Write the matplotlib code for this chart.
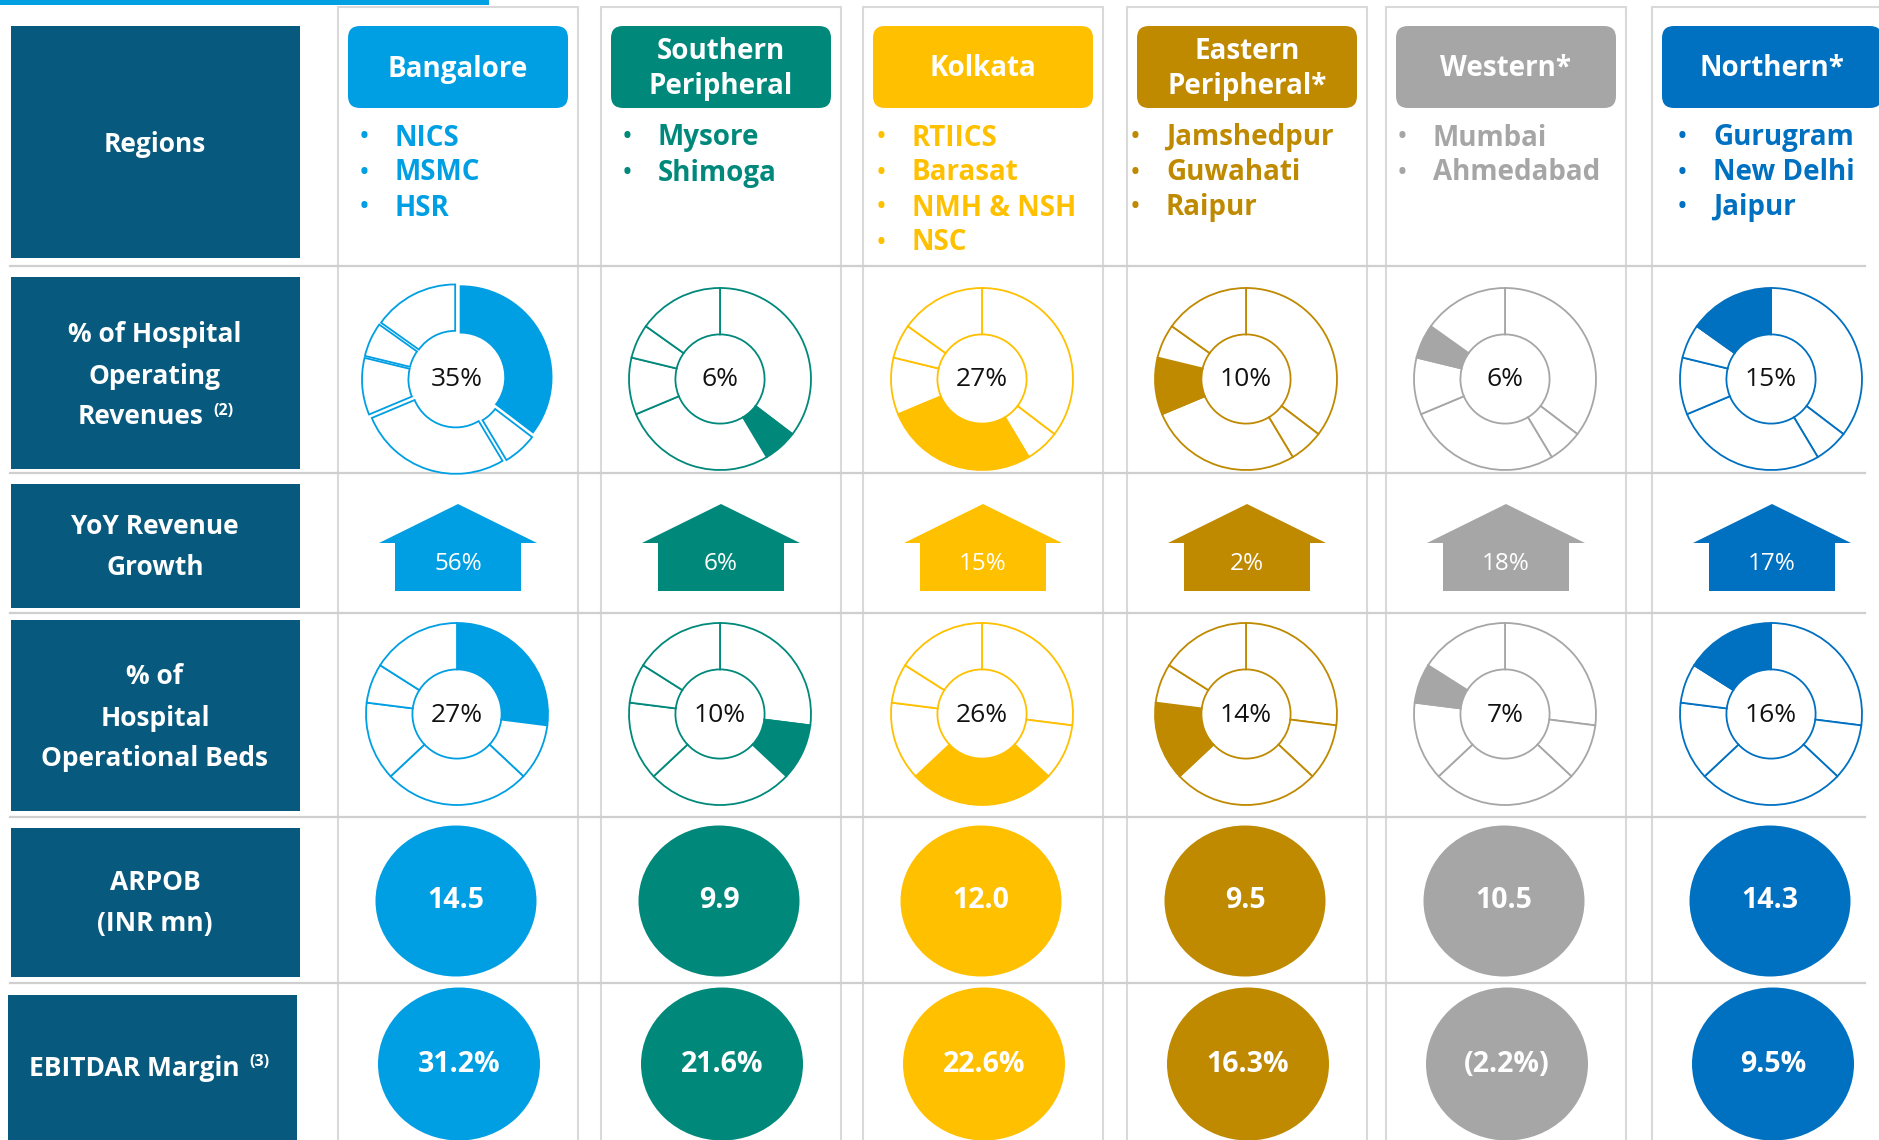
import matplotlib.pyplot as plt
from matplotlib.patches import FancyBboxPatch, Rectangle, Ellipse, Polygon

plt.rcParams['font.family'] = ['Open Sans', 'DejaVu Sans']

W, H = 1879, 1140

# ---- data ----
regions = ["Bangalore", "Southern\nPeripheral", "Kolkata",
           "Eastern\nPeripheral*", "Western*", "Northern*"]
hospitals = [["NICS", "MSMC", "HSR"],
             ["Mysore", "Shimoga"],
             ["RTIICS", "Barasat", "NMH & NSH", "NSC"],
             ["Jamshedpur", "Guwahati", "Raipur"],
             ["Mumbai", "Ahmedabad"],
             ["Gurugram", "New Delhi", "Jaipur"]]
region_colors = ["#009FE3", "#00897B", "#FFC000", "#BF8900", "#A6A6A6", "#0070C0"]
revenue_share = [35, 6, 27, 10, 6, 15]
beds_share = [27, 10, 26, 14, 7, 16]
yoy_growth = ["56%", "6%", "15%", "2%", "18%", "17%"]
arpob = ["14.5", "9.9", "12.0", "9.5", "10.5", "14.3"]
ebitdar_margin = ["31.2%", "21.6%", "22.6%", "16.3%", "(2.2%)", "9.5%"]

row_labels = [["Regions"],
              ["% of Hospital", "Operating", "Revenues"],
              ["YoY Revenue", "Growth"],
              ["% of", "Hospital", "Operational Beds"],
              ["ARPOB", "(INR mn)"],
              ["EBITDAR Margin"]]
row_notes = ["", "(2)", "", "", "", "(3)"]

# ---- layout (pixels, measured from the top) ----
col_x = [458, 721, 983, 1247, 1506, 1772]
bullet_dx = [-63, -63, -71, -81, -73, -59]
label_boxes = [(11, 26, 258), (11, 277, 469), (11, 484, 608),
               (11, 620, 811), (11, 828, 977), (8, 995, 1140)]
label_centers = [144, 376, 547, 718, 903, 1068]
note_x = [0, 213, 0, 0, 0, 249]
separators = [266, 473, 613, 817, 983]
BOX_DARK = "#075A7E"


def Y(y):
    return H - y


fig = plt.figure(figsize=(W / 100, H / 100), dpi=100)
ax = fig.add_axes([0, 0, 1, 1])

# top accent line
ax.add_patch(Rectangle((0, Y(5)), 489, 5, color="#00A0E3", lw=0))

# column cards
for cx in col_x:
    ax.add_patch(Rectangle((cx - 120, Y(H + 5)), 240, H - 2, facecolor="white",
                           edgecolor="#D9D9D9", lw=1.5, zorder=0))

for y in separators:
    ax.plot([10, 1865], [Y(y), Y(y)], color="#CFCFCF", lw=1.6, zorder=1)

# row label boxes
for r, (x0, y0, y1) in enumerate(label_boxes):
    ax.add_patch(Rectangle((x0, Y(y1)), 289, y1 - y0, color=BOX_DARK, lw=0, zorder=2))
    lines = row_labels[r]
    n = len(lines)
    for k, line in enumerate(lines):
        yy = Y(label_centers[r] + (k - (n - 1) / 2) * 41)
        if row_notes[r] and k == n - 1:
            ax.text(note_x[r] - 9, yy, line, color="white", fontsize=19,
                    fontweight="bold", ha="right", va="center", zorder=3)
            ax.text(note_x[r], yy + 6, row_notes[r], color="white", fontsize=11.5,
                    fontweight="bold", ha="left", va="center", zorder=3)
        else:
            ax.text(155, yy, line, color="white", fontsize=19,
                    fontweight="bold", ha="center", va="center", zorder=3)

for i, cx in enumerate(col_x):
    c = region_colors[i]

    # header
    ax.add_patch(FancyBboxPatch((cx - 110, Y(108)), 220, 82,
                                boxstyle="round,pad=0,rounding_size=12",
                                facecolor=c, edgecolor="none", zorder=2))
    ax.text(cx, Y(69), regions[i], color="white", fontsize=20, fontweight="bold",
            ha="center", va="center", linespacing=1.3, zorder=3)

    # hospital bullets
    for k, name in enumerate(hospitals[i]):
        yy = Y(138 + 35 * k)
        ax.text(cx + bullet_dx[i] - 31, yy, "\u2022", color=c, fontsize=21,
                ha="center", va="center", zorder=3)
        ax.text(cx + bullet_dx[i], yy, name, color=c, fontsize=20,
                fontweight="bold", ha="left", va="center", zorder=3)

    # revenue share donut
    r = 91
    explode = [4] * 6 if i == 0 else None
    ax.pie(revenue_share, center=(cx - 1, Y(379)), radius=r, startangle=90,
           counterclock=False, explode=explode,
           colors=[c if j == i else "white" for j in range(6)],
           wedgeprops=dict(width=r * 0.51, edgecolor=c, linewidth=1.3),
           frame=True)
    ax.text(cx - 1, Y(380), f"{revenue_share[i]}%", fontsize=19,
            ha="center", va="center", color="#111111", zorder=4)

    # YoY growth arrow
    ax.add_patch(Polygon([(cx, Y(504)), (cx + 79, Y(543)), (cx + 63, Y(543)),
                          (cx + 63, Y(591)), (cx - 63, Y(591)), (cx - 63, Y(543)),
                          (cx - 79, Y(543))], closed=True, color=c, lw=0, zorder=2))
    ax.text(cx, Y(564), yoy_growth[i], fontsize=17.5, color="white",
            ha="center", va="center", zorder=3)

    # beds share donut
    ax.pie(beds_share, center=(cx - 1, Y(714)), radius=r, startangle=90,
           counterclock=False,
           colors=[c if j == i else "white" for j in range(6)],
           wedgeprops=dict(width=r * 0.51, edgecolor=c, linewidth=1.3),
           frame=True)
    ax.text(cx - 1, Y(715), f"{beds_share[i]}%", fontsize=19,
            ha="center", va="center", color="#111111", zorder=4)

    # ARPOB and EBITDAR circles
    ax.add_patch(Ellipse((cx - 2, Y(901)), 161, 151, color=c, lw=0, zorder=2))
    ax.text(cx - 2, Y(901), arpob[i], fontsize=20.5, fontweight="bold",
            color="white", ha="center", va="center", zorder=3)
    ax.add_patch(Ellipse((cx + 1, Y(1064)), 162, 153, color=c, lw=0, zorder=2))
    ax.text(cx + 1, Y(1064), ebitdar_margin[i], fontsize=20.5, fontweight="bold",
            color="white", ha="center", va="center", zorder=3)

ax.set_xlim(0, W)
ax.set_ylim(0, H)
ax.set_aspect("auto")
ax.axis("off")

fig.savefig("out.png", dpi=100, facecolor="white")
